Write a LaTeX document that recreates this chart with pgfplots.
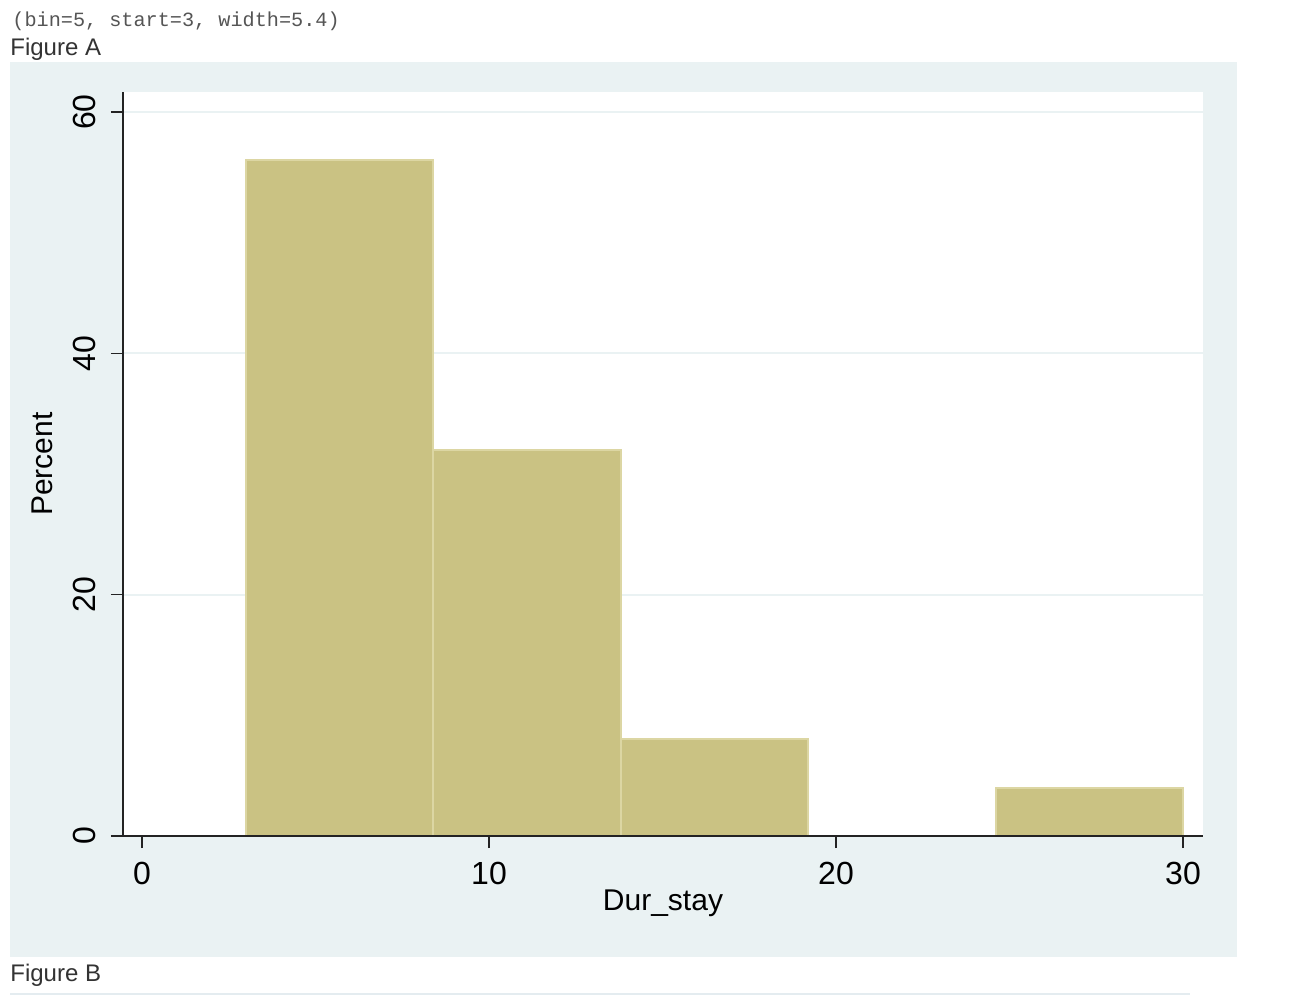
\documentclass[border=0pt]{standalone}
\usepackage{pgfplots}
\pgfplotsset{compat=1.18}
\usepackage{fontspec}
\setmainfont{Liberation Sans}
\setmonofont{Liberation Mono}

\definecolor{panel}{RGB}{234,242,243}
\definecolor{barfill}{RGB}{202,194,131}
\definecolor{baredge}{RGB}{220,214,163}
\definecolor{axcol}{RGB}{35,35,35}
\definecolor{captext}{RGB}{51,51,51}
\definecolor{monotext}{RGB}{85,85,85}
\definecolor{rulecol}{RGB}{228,236,240}

\begin{document}
\begin{tikzpicture}
% page and graph region
\fill[white] (0pt,0pt) rectangle (648.5pt,-497.5pt);
\fill[panel] (5pt,-31pt) rectangle (618.5pt,-478.5pt);
\node[anchor=west, inner sep=0pt, text=monotext, font=\ttfamily\fontsize{10.1}{12}\selectfont]
  at (6pt,-10.5pt) {(bin=5, start=3, width=5.4)};
\node[anchor=base west, inner sep=0pt, text=captext, font=\fontsize{12}{14}\selectfont]
  at (5pt,-28pt) {Figure A};
\node[anchor=base west, inner sep=0pt, text=captext, font=\fontsize{12}{14}\selectfont]
  at (5pt,-490.5pt) {Figure B};
\fill[rulecol] (5pt,-496.3pt) rectangle (595pt,-497.5pt);

\begin{axis}[
  at={(61.5pt,-418pt)}, anchor=south west,
  scale only axis, width=540pt, height=372pt,
  xmin=-0.548, xmax=30.576, ymin=0, ymax=61.66,
  axis background/.style={fill=white},
  axis x line*=bottom, axis y line*=left,
  axis line style={axcol, line width=0.8pt, -},
  xtick={0,10,20,30}, ytick={0,20,40,60},
  tick align=outside, major tick length=6pt,
  tick style={axcol, line width=0.7pt},
  minor tick num=0,
  ymajorgrids, xmajorgrids=false,
  major grid style={panel, line width=1pt},
  /pgf/number format/assume math mode=true,
  tick label style={font=\fontsize{16}{18}\selectfont, text=black},
  xticklabel style={anchor=north, inner sep=0pt, yshift=-7pt},
  yticklabel style={rotate=90, anchor=south, inner sep=0pt, yshift=7.5pt},
  xlabel={Dur\_stay},
  ylabel={Percent},
  label style={font=\fontsize{15}{18}\selectfont, text=black},
  xlabel style={at={(axis description cs:0.5,0)}, anchor=north, inner sep=0pt, yshift=-26.5pt},
  ylabel style={at={(axis description cs:0,0.5)}, anchor=south, inner sep=0pt, yshift=35pt},
  clip=false,
]
\addplot[ybar interval, fill=barfill, draw=baredge, line width=1pt]
  coordinates {(3,56) (8.4,32) (13.8,8) (19.2,8)};
\addplot[ybar interval, fill=barfill, draw=baredge, line width=1pt]
  coordinates {(24.6,4) (30,4)};
% x axis line again, above the bar bottoms
\draw[axcol, line width=0.8pt] (axis cs:-0.548,0) -- (axis cs:30.576,0);
\end{axis}
\end{tikzpicture}
\end{document}
